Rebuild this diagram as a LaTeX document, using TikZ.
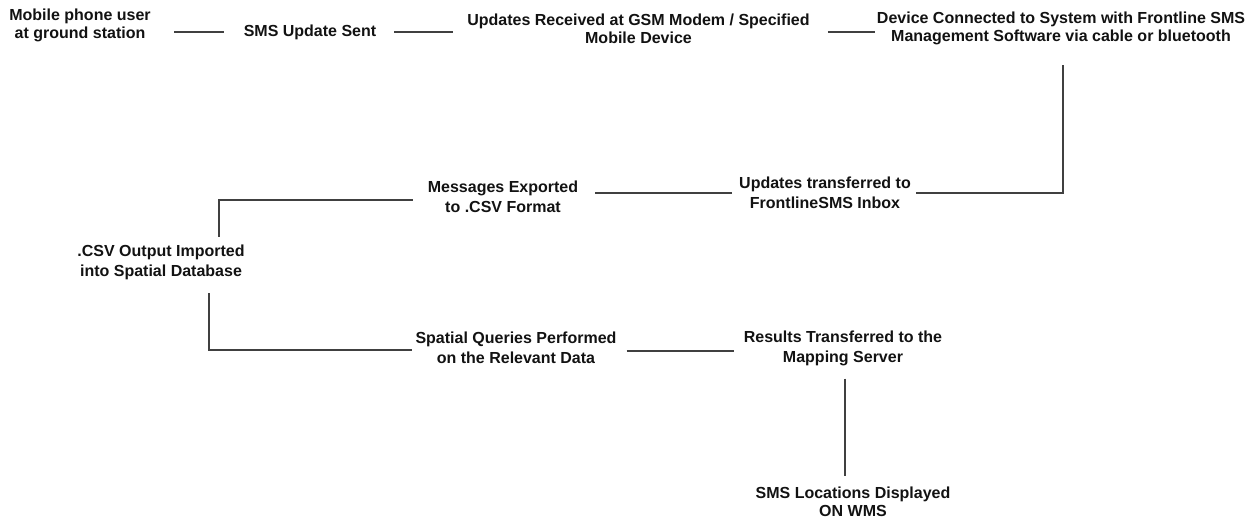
\documentclass[tikz,border=0pt]{standalone}
\usepackage{fontspec}
\setmainfont{Liberation Sans}
\usetikzlibrary{calc}
\definecolor{linkgray}{HTML}{404040}
\definecolor{labelink}{HTML}{121212}
\begin{document}
\begin{tikzpicture}[x=1pt,y=-1pt,
  stage/.style={inner sep=0pt, align=center, text=labelink,
    font=\fontsize{16}{18}\selectfont\bfseries},
  loose/.style={font=\fontsize{16}{20}\selectfont\bfseries},
  link/.style={draw=linkgray, line width=1.8pt}]
\useasboundingbox (0,0) rectangle (1257,521);

% process stages
\node[stage] (user)    at (80,25.5)   {Mobile phone user\\at ground station};
\node[stage] (sent)    at (310,32)    {SMS Update Sent};
\node[stage] (gsm)     at (638.5,29)  {Updates Received at GSM Modem / Specified\\Mobile Device};
\node[stage] (device)  at (1061,28.5) {Device Connected to System with Frontline SMS\\Management Software via cable or bluetooth};
\node[stage,loose] (inbox)   at (825,193)   {Updates transferred to\\FrontlineSMS Inbox};
\node[stage,loose] (export)  at (503,197)   {Messages Exported\\to .CSV Format};
\node[stage,loose] (csv)     at (161,262.5) {.CSV Output Imported\\into Spatial Database};
\node[stage,loose] (queries) at (516,348)   {Spatial Queries Performed\\on the Relevant Data};
\node[stage,loose] (results) at (843,348)   {Results Transferred to the\\Mapping Server};
\node[stage] (wms)     at (853,502) {SMS Locations Displayed\\ON WMS};

% bends of the elbow connectors
\coordinate (bendA) at (219,200);
\coordinate (bendB) at (209,350);

% connectors
\draw[link, shorten <=20pt, shorten >=23pt] (sent.west) -- (sent.west -| user.east);
\draw[link, shorten <=18pt, shorten >=14pt] (sent.east) -- (sent.east -| gsm.west);
\draw[link, shorten <=18pt, shorten >=2pt] (gsm.east |- sent.east) -- (device.west |- sent.east);
\draw[link] ([xshift=2pt,yshift=-20pt]device.south) |- ([xshift=5pt]inbox.east);
\draw[link, shorten <=7pt, shorten >=17pt] (inbox.west) -- (inbox.west -| export.east);
\draw[link, shorten >=8pt] ([xshift=-15pt,yshift=-3pt]export.west) -- (bendA) -- (bendA |- csv.north);
\draw[link, shorten <=13pt] (bendB |- csv.south) -- (bendB) -- ([xshift=-3pt,yshift=-2pt]queries.west);
\draw[link, shorten <=10pt, shorten >=10pt] ([yshift=-3pt]queries.east) -- ([yshift=-3pt]queries.east -| results.west);
\draw[link, shorten <=13pt, shorten >=11pt] ([xshift=2pt]results.south) -- ([xshift=2pt]results.south |- wms.north);
\end{tikzpicture}
\end{document}
